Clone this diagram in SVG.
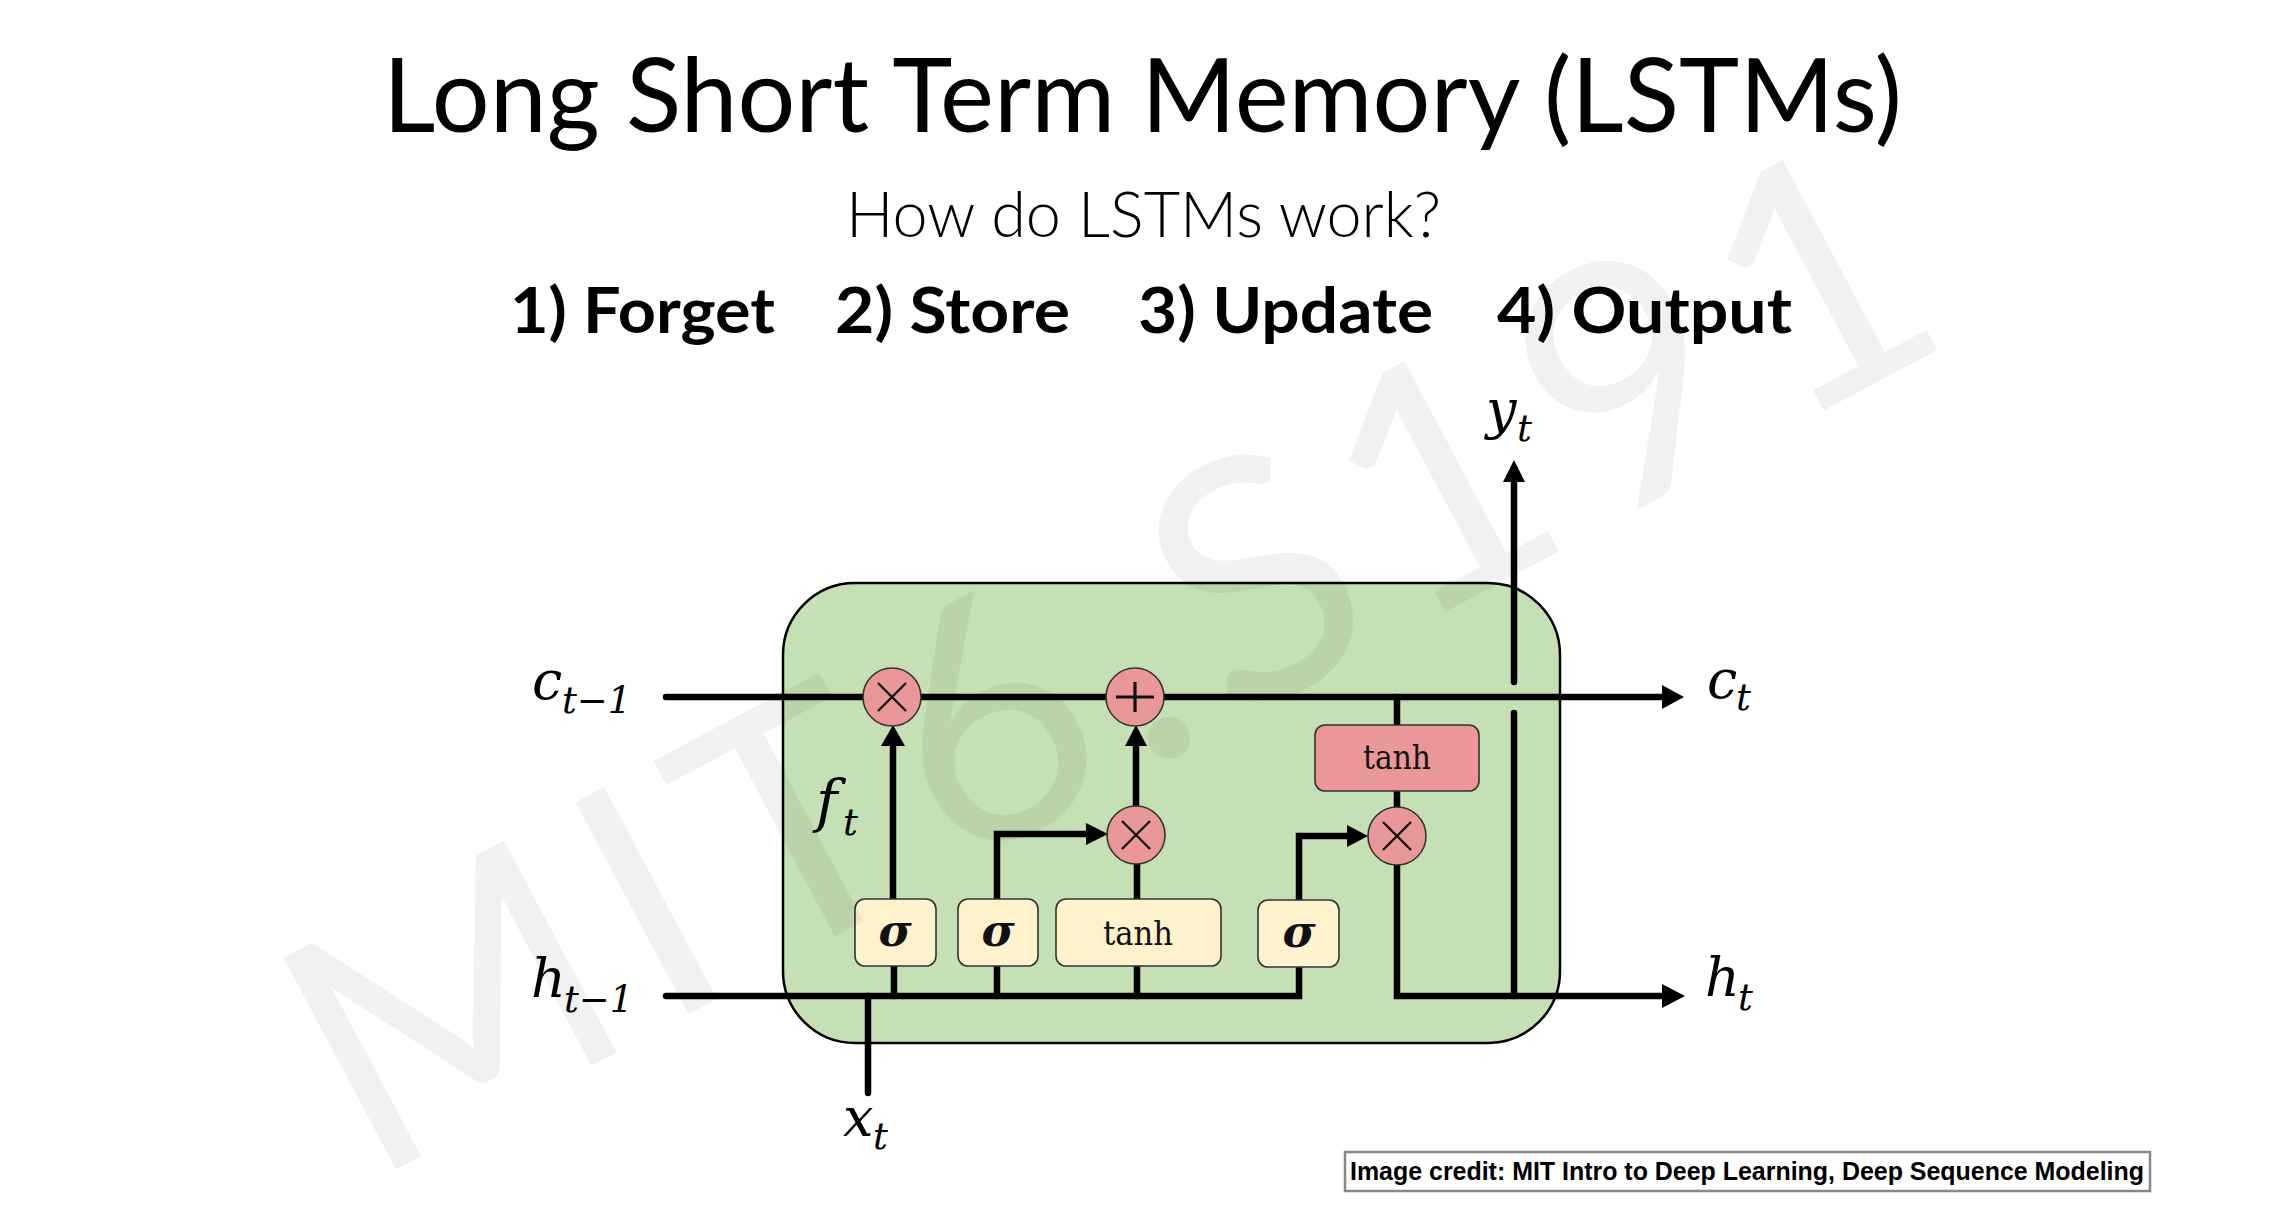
<svg xmlns="http://www.w3.org/2000/svg" width="2276" height="1210" viewBox="0 0 2276 1210">
<style>
.hd{font-family:Lato,"Open Sans","Liberation Sans",sans-serif;fill:#000}
.wire{fill:none;stroke:#000;stroke-width:6.5;stroke-linecap:round;stroke-linejoin:miter}
.ah{fill:#000;stroke:none}
.ybox{fill:#fff2cc;stroke:#333;stroke-width:1.6}
.rbox{fill:#ea9799;stroke:#333;stroke-width:1.6}
.op{fill:#ea9799;stroke:#333;stroke-width:1.6}
.sym{fill:none;stroke:#111;stroke-width:2.4;stroke-linecap:butt}
.plus{fill:none;stroke:#111;stroke-width:3.2}
.m{font-family:"DejaVu Serif","Liberation Serif",serif;font-style:italic;fill:#000}
.fn{font-family:"DejaVu Serif","Liberation Serif",serif;fill:#111;text-anchor:middle}
.sg{font-family:"DejaVu Serif","Liberation Serif",serif;font-style:italic;font-weight:bold;fill:#111;text-anchor:middle}
</style>
<rect width="2276" height="1210" fill="#fff"/>
<g id="title">
<text class="hd" x="383" y="132" font-size="103" textLength="1519" lengthAdjust="spacingAndGlyphs">Long Short Term Memory (LSTMs)</text>
<text class="hd" x="846" y="237" font-size="63" font-weight="300" textLength="595" lengthAdjust="spacingAndGlyphs">How do LSTMs work?</text>
<text class="hd" x="510" y="333" font-size="63" font-weight="bold" textLength="265" lengthAdjust="spacingAndGlyphs">1) Forget</text>
<text class="hd" x="835" y="333" font-size="63" font-weight="bold" textLength="235" lengthAdjust="spacingAndGlyphs">2) Store</text>
<text class="hd" x="1138" y="333" font-size="63" font-weight="bold" textLength="295" lengthAdjust="spacingAndGlyphs">3) Update</text>
<text class="hd" x="1497" y="333" font-size="63" font-weight="bold" textLength="295" lengthAdjust="spacingAndGlyphs">4) Output</text>
</g>
<g id="cell">
<rect x="783" y="583" width="777" height="460" rx="72" ry="72" fill="#c5e0b4" stroke="#000" stroke-width="2.5"/>
</g>
<g id="connectors">
<path class="wire" d="M666,697 H1666"/>
<polygon class="ah" points="1662,685 1684,697 1662,709"/>
<path class="wire" d="M666,996 H1299 V968"/>
<path class="wire" d="M894,996 V966"/>
<path class="wire" d="M997,996 V966"/>
<path class="wire" d="M1137,996 V966"/>
<path class="wire" d="M868,1093 V996"/>
<path class="wire" d="M893,899 V744"/>
<polygon class="ah" points="881,746 905,746 893,725"/>
<path class="wire" d="M997,899 V834 H1089"/>
<polygon class="ah" points="1086,823 1108,834 1086,845"/>
<path class="wire" d="M1137,899 V863"/>
<path class="wire" d="M1136,806 V744"/>
<polygon class="ah" points="1125,746 1147,746 1136,725"/>
<path class="wire" d="M1397,697 V725"/>
<path class="wire" d="M1397,791 V807"/>
<path class="wire" d="M1299,899 V836 H1349"/>
<polygon class="ah" points="1347,825 1368,836 1347,847"/>
<path class="wire" d="M1397,865 V996 H1665"/>
<polygon class="ah" points="1662,984 1685,996 1662,1008"/>
<path class="wire" d="M1514,996 V713"/>
<path class="wire" d="M1514,682 V479"/>
<polygon class="ah" points="1503,482 1525,482 1514,460"/>
</g>
<g id="mul-forget"><circle class="op" cx="892" cy="697" r="29"/><path class="sym" d="M878,683 L906,711 M906,683 L878,711"/></g>
<g id="add-cell"><circle class="op" cx="1135" cy="697" r="29"/><path class="plus" d="M1116,697 H1154 M1135,682 V712"/></g>
<g id="mul-input"><circle class="op" cx="1136" cy="835" r="29"/><path class="sym" d="M1122,821 L1150,849 M1150,821 L1122,849"/></g>
<g id="mul-output"><circle class="op" cx="1397" cy="836" r="29"/><path class="sym" d="M1383,822 L1411,850 M1411,822 L1383,850"/></g>
<g id="sigma-forget"><rect class="ybox" x="855" y="899" width="81" height="67" rx="10"/><text class="sg" x="895" y="946" font-size="45">σ</text></g>
<g id="sigma-input"><rect class="ybox" x="958" y="899" width="80" height="67" rx="10"/><text class="sg" x="998" y="946" font-size="45">σ</text></g>
<g id="tanh-candidate"><rect class="ybox" x="1056" y="899" width="165" height="67" rx="10"/><text class="fn" x="1138" y="945" font-size="34" textLength="70" lengthAdjust="spacingAndGlyphs">tanh</text></g>
<g id="sigma-output"><rect class="ybox" x="1258" y="900" width="81" height="67" rx="10"/><text class="sg" x="1299" y="947" font-size="45">σ</text></g>
<g id="tanh-cell"><rect class="rbox" x="1315" y="725" width="164" height="66" rx="10"/><text class="fn" x="1397" y="769" font-size="34" textLength="68" lengthAdjust="spacingAndGlyphs">tanh</text></g>
<g id="labels">
<text class="m" x="532" y="699" font-size="54">c<tspan x="562" y="713" font-size="37">t−1</tspan></text>
<text class="m" x="531" y="997" font-size="54">h<tspan x="564" y="1012" font-size="37">t−1</tspan></text>
<text class="m" x="843" y="1136" font-size="54">x<tspan x="873" y="1149" font-size="37">t</tspan></text>
<text class="m" x="816" y="821" font-size="58">f<tspan x="843" y="835" font-size="37">t</tspan></text>
<text class="m" x="1486" y="428" font-size="54">y<tspan x="1517" y="441" font-size="37">t</tspan></text>
<text class="m" x="1707" y="698" font-size="54">c<tspan x="1736" y="710" font-size="37">t</tspan></text>
<text class="m" x="1705" y="996" font-size="54">h<tspan x="1738" y="1010" font-size="37">t</tspan></text>
</g>
<g id="credit">
<rect x="1345" y="1152" width="805" height="39" fill="#fff" stroke="#888" stroke-width="2.5"/>
<text x="1350" y="1180" font-family="'Liberation Sans',Arial,sans-serif" font-weight="bold" font-size="25" textLength="794" lengthAdjust="spacingAndGlyphs" fill="#000">Image credit: MIT Intro to Deep Learning, Deep Sequence Modeling</text>
</g>
<g id="watermark">
<text transform="translate(369,1184) rotate(-28)" font-family="Lato,'Open Sans',sans-serif" font-size="335" fill="#000" fill-opacity="0.055" textLength="1800" lengthAdjust="spacing">MIT6.S191</text>
</g>
</svg>
